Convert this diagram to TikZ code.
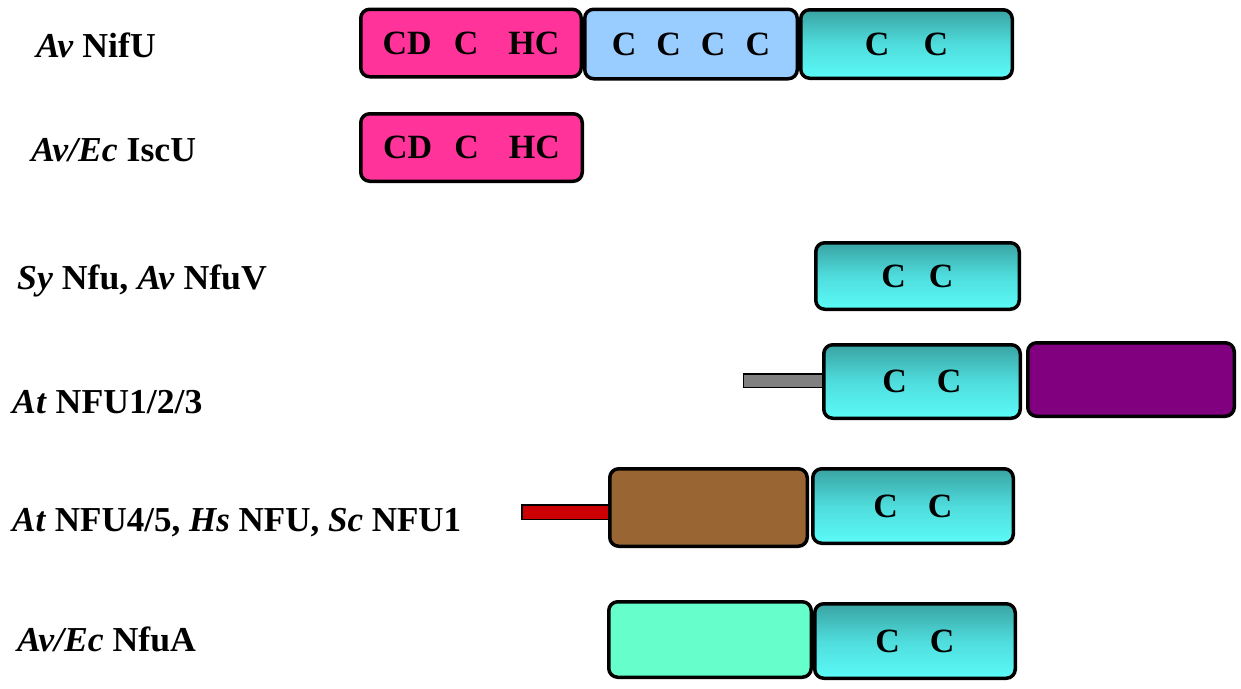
\documentclass[tikz,border=0pt]{standalone}
\usepackage{fontspec}
\setmainfont{Liberation Serif}
\definecolor{cyTop}{HTML}{3AA3A3}
\definecolor{cyMid}{HTML}{4FDCDC}
\definecolor{cyBot}{HTML}{5BFBF8}
\definecolor{pinkD}{HTML}{FF3399}
\definecolor{blueD}{HTML}{99CCFF}
\definecolor{purpD}{HTML}{800080}
\definecolor{brownD}{HTML}{996633}
\definecolor{mintD}{HTML}{66FFCC}
\definecolor{redS}{HTML}{CC0000}
\definecolor{grayS}{HTML}{808080}
\begin{document}
\begin{tikzpicture}[x=1pt,y=-1pt,
  dom/.style={draw=black, line width=3.5pt, rounded corners=9pt, inner sep=0pt,
    font=\fontsize{34}{40}\selectfont\bfseries},
  cys/.style={dom, top color=cyTop, bottom color=cyBot, middle color=cyMid},
  stub/.style={draw=black, line width=1.5pt, inner sep=0pt},
  lab/.style={anchor=base west, inner sep=0pt, font=\fontsize{35}{40}\selectfont\bfseries}]
\useasboundingbox (0,0) rectangle (1241,688);

% labels
\node[lab] (l1) at (36,57) {\scalebox{1.02}[1]{\textit{Av} NifU}};
\node[lab] (l2) at (31,161) {\scalebox{1.02}[1]{\textit{Av/Ec} IscU}};
\node[lab] (l3) at (17,289) {\scalebox{1.02}[1]{\textit{Sy} Nfu, \textit{Av} NfuV}};
\node[lab] (l4) at (12,413) {\scalebox{1.02}[1]{\textit{At} NFU1/2/3}};
\node[lab] (l5) at (12,531) {\textit{At} NFU4/5, \textit{Hs} NFU, \textit{Sc} NFU1};
\node[lab] (l6) at (17,651) {\scalebox{1.02}[1]{\textit{Av/Ec} NfuA}};

% row 1
\node[dom, fill=pinkD, minimum width=220.5, minimum height=67.5] (r1a) at (471,43) {CD\hspace{22pt}C\hspace{30pt}HC};
\node[dom, fill=blueD, minimum width=212.5, minimum height=69.5] (r1b) at (691,44) {C\hspace{20pt}C\hspace{20pt}C\hspace{20pt}C};
\node[cys, minimum width=211.5, minimum height=68.5] (r1c) at (906.5,44) {C\hspace{34pt}C};

% row 2
\node[dom, fill=pinkD, minimum width=221.5, minimum height=67.5] (r2a) at (471.5,147.5) {CD\hspace{22pt}C\hspace{30pt}HC};

% row 3
\node[cys, minimum width=203.5, minimum height=66.5] (r3a) at (917.5,276) {C\hspace{23pt}C};

% row 4
\node[stub, fill=grayS, minimum width=85, minimum height=13.5] (s4) at (786,380.5) {};
\node[cys, minimum width=196.5, minimum height=73.5] (r4a) at (922,381.5) {C\hspace{30pt}C};
\node[dom, fill=purpD, minimum width=206.5, minimum height=73.5] (r4b) at (1131,379.5) {};

% row 5
\node[stub, fill=redS, minimum width=92, minimum height=14.5] (s5) at (568,512) {};
\node[dom, fill=brownD, minimum width=197.5, minimum height=77.5] (r5a) at (708.5,507.5) {};
\node[cys, minimum width=200.5, minimum height=74.5] (r5b) at (913,506) {C\hspace{30pt}C};

% row 6
\node[dom, fill=mintD, minimum width=202.5, minimum height=75.5] (r6a) at (710,639.5) {};
\node[cys, minimum width=200.5, minimum height=74.5] (r6b) at (915,641) {C\hspace{30pt}C};
\end{tikzpicture}
\end{document}
